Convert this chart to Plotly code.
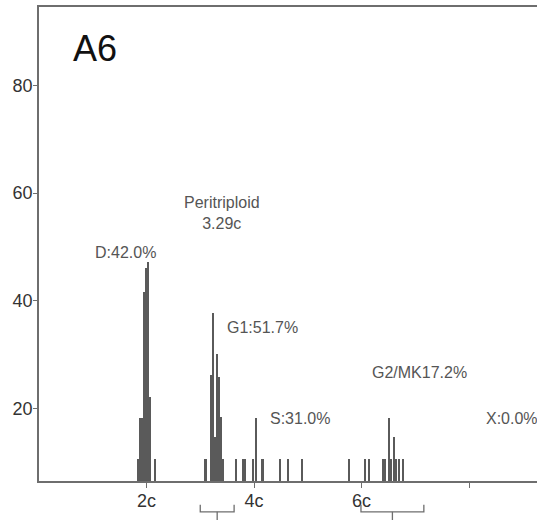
import plotly.graph_objects as go

# DNA content (in c units) and histogram heights
bin_pos = [1.836, 1.879, 1.911, 1.948, 1.985, 2.022, 2.065, 2.153,
           3.085, 3.100, 3.200, 3.243, 3.280, 3.317, 3.354, 3.392, 3.429,
           3.660, 3.790, 3.833, 3.976, 4.032, 4.143, 4.173,
           4.484, 4.633, 4.899, 5.771, 6.065, 6.143,
           6.396, 6.433, 6.516, 6.558, 6.599, 6.642, 6.707, 6.781]
bin_count = [10.5, 18.2, 18.2, 41.7, 46.1, 47.2, 22.2, 10.5,
             10.5, 10.5, 26.2, 37.8, 14.7, 30.1, 25.9, 18.4, 10.5,
             10.5, 10.5, 10.5, 10.5, 18.3, 10.5, 10.5,
             10.5, 10.5, 10.5, 10.5, 10.5, 10.5,
             10.5, 10.5, 18.3, 10.5, 14.6, 10.5, 10.5, 10.5]

x_tick_vals = [2, 4, 6, 8]
x_tick_text = ["2c", "4c", "6c", ""]
y_tick_vals = [20, 40, 60, 80]

# peak ranges (G1 and G2 of the peritriploid population), in c units
range_lo = [3.00, 5.99]
range_hi = [3.63, 7.16]

labels = ["D:42.0%", "G1:51.7%", "S:31.0%", "G2/MK17.2%", "X:0.0%"]
label_x = [1.60, 4.16, 4.86, 7.07, 8.80]
label_y = [48.9, 35.1, 18.2, 26.6, 18.2]

axis_col = "#6e6e6e"
text_col = "#555555"

fig = go.Figure()
fig.add_trace(go.Bar(x=bin_pos, y=bin_count, width=0.021,
                     marker=dict(color="#5a5a5a", line=dict(width=0)),
                     showlegend=False, hoverinfo="skip"))

for xv, yv, t in zip(label_x, label_y, labels):
    fig.add_annotation(x=xv, y=yv, xref="x", yref="y", text=t, showarrow=False,
                       font=dict(family="Liberation Sans, Arial", size=16, color=text_col))

fig.add_annotation(x=3.40, y=56.3, xref="x", yref="y", text="Peritriploid<br>3.29c",
                   showarrow=False,
                   font=dict(family="Liberation Sans, Arial", size=16, color=text_col))
fig.add_annotation(x=1.04, y=86.8, xref="x", yref="y", text="A6", showarrow=False,
                   font=dict(family="Liberation Sans, Arial", size=36, color="#111111"))

for lo, hi in zip(range_lo, range_hi):
    mid = (lo + hi) / 2
    fig.add_shape(type="path", xref="x", yref="paper",
                  path=f"M {lo} -0.050 L {lo} -0.065 L {hi} -0.065 L {hi} -0.050",
                  line=dict(color=axis_col, width=1.3))
    fig.add_shape(type="line", xref="x", yref="paper", x0=mid, x1=mid,
                  y0=-0.065, y1=-0.09, line=dict(color=axis_col, width=1.3))

fig.update_layout(
    width=537, height=520,
    margin=dict(l=39, r=0, t=7, b=39),
    paper_bgcolor="white", plot_bgcolor="white",
    bargap=0,
    font=dict(family="Liberation Sans, Arial", color="#333333"),
    xaxis=dict(range=[0, 9.265], tickvals=x_tick_vals, ticktext=x_tick_text,
               showline=True, linecolor=axis_col, linewidth=1.8, mirror=True,
               ticks="outside", ticklen=5, tickcolor=axis_col, tickwidth=1.2,
               ticklabelstandoff=-3,
               showgrid=False, zeroline=False,
               tickfont=dict(size=18, color="#333333")),
    yaxis=dict(range=[6.5, 94.6], tickvals=y_tick_vals,
               showline=True, linecolor=axis_col, linewidth=1.8,
               ticks="outside", ticklen=4, tickcolor=axis_col, tickwidth=1.2,
               ticklabelstandoff=-3,
               showgrid=False, zeroline=False,
               tickfont=dict(size=18, color="#333333")),
)

fig.write_html("out.html",
               config={"displayModeBar": False},
               post_script="document.body.style.margin='0';"
                           "document.body.style.overflow='hidden';")
